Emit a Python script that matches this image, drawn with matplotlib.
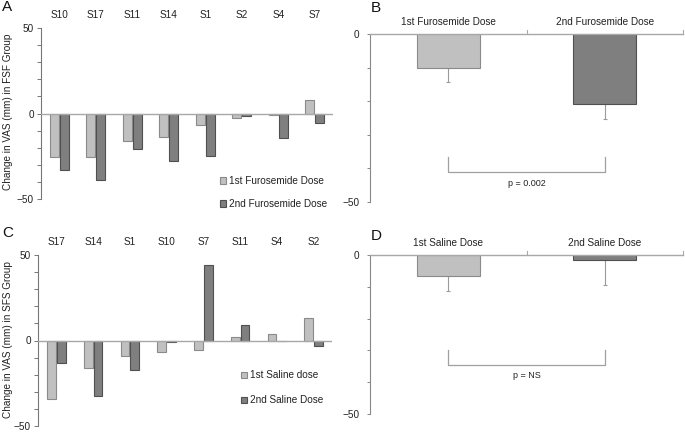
import numpy as np
import matplotlib.pyplot as plt
from matplotlib.patches import Patch
from matplotlib.ticker import MultipleLocator

plt.rcParams["font.family"] = ["Liberation Sans", "DejaVu Sans"]

light = "#c0c0c0"
dark = "#7f7f7f"
light_edge = "#8a8a8a"
dark_edge = "#505050"
axis_col = "#a8a8a8"
txt_col = "#222222"

#################### data #########################
fsf_subjects = ["S10", "S17", "S11", "S14", "S1", "S2", "S4", "S7"]
fsf_first = [-25.4, -25.4, -16.1, -13.6, -6.8, -2.9, -0.6, 8.1]
fsf_second = [-33.1, -38.6, -20.7, -27.7, -24.6, -1.6, -14.1, -5.6]

sfs_subjects = ["S17", "S14", "S1", "S10", "S7", "S11", "S4", "S2"]
sfs_first = [-34.0, -16.0, -9.1, -6.8, -5.6, 2.3, 3.7, 13.0]
sfs_second = [-13.0, -32.7, -17.3, -0.6, 44.0, 8.9, -0.3, -3.3]

fur_labels = ["1st Furosemide Dose", "2nd Furosemide Dose"]
fur_means = [-10.2, -20.8]
fur_err = [4.1, 4.4]
fur_bracket = (-36.6, -41.1)
fur_p = "p = 0.002"

sal_labels = ["1st Saline Dose", "2nd Saline Dose"]
sal_means = [-6.5, -1.7]
sal_err = [4.9, 7.8]
sal_bracket = (-30.0, -34.5)
sal_p = "p = NS"
###################################################

W, H = 685, 432
fig = plt.figure(figsize=(W / 100, H / 100), dpi=100)


def px_axes(left, top, right, bottom):
    return fig.add_axes([left / W, (H - bottom) / H, (right - left) / W, (bottom - top) / H])


def subject_panel(ax, subjects, first, second, leg_labels, leg_pos, leg_space, ylab, ylab_y):
    x = np.arange(len(subjects))
    bw = 0.24
    ax.bar(x - 0.135, first, bw, color=light, edgecolor=light_edge, linewidth=0.8, zorder=2)
    ax.bar(x + 0.135, second, bw, color=dark, edgecolor=dark_edge, linewidth=0.8, zorder=2)
    ax.set_xlim(-0.5, len(subjects) - 0.5)
    ax.set_ylim(-50, 50)
    ax.axhline(0, color=axis_col, lw=1.0, zorder=3)
    for s in ["top", "right", "bottom"]:
        ax.spines[s].set_visible(False)
    ax.spines["left"].set_color("#777777")
    ax.spines["left"].set_linewidth(0.8)
    ax.xaxis.tick_top()
    ax.set_xticks(x, subjects)
    ax.tick_params(axis="x", length=0, pad=6, labelsize=7.2, colors=txt_col)
    ax.yaxis.set_major_locator(MultipleLocator(50))
    ax.yaxis.set_minor_locator(MultipleLocator(10))
    ax.tick_params(axis="y", which="both", length=3, width=0.7, color="#777777",
                   labelsize=7.2, labelcolor=txt_col, pad=2)
    handles = [Patch(facecolor=light, edgecolor=light_edge, linewidth=0.8),
               Patch(facecolor=dark, edgecolor=dark_edge, linewidth=0.8)]
    ax.legend(handles, leg_labels, loc="upper left", bbox_to_anchor=leg_pos, frameon=False,
              fontsize=7.2, handlelength=0.6, handleheight=0.6, handletextpad=0.3,
              labelspacing=leg_space, borderpad=0, borderaxespad=0, labelcolor=txt_col)
    fig.text(8 / W, 1 - ylab_y / H, ylab, rotation=90, ha="center", va="center",
             fontsize=7.2, color=txt_col)


def mean_panel(ax, labels, means, err, bracket, ptext):
    x = np.arange(len(labels))
    ax.bar(x, means, 0.4, color=[light, dark], edgecolor=[light_edge, dark_edge],
           linewidth=0.8, zorder=2)
    ax.errorbar(x, means, yerr=[err, [0] * len(err)], fmt="none", ecolor="#9a9a9a",
                elinewidth=0.8, capsize=1.5, capthick=0.8, zorder=1)
    ax.set_xlim(-0.5, len(labels) - 0.5)
    ax.set_ylim(-50, 0)
    for s in ["top", "right", "bottom"]:
        ax.spines[s].set_visible(False)
    ax.spines["left"].set_color("#888888")
    ax.spines["left"].set_linewidth(0.8)
    ax.axhline(0, color=axis_col, lw=1.0, clip_on=False, zorder=3)
    for bx in [0.5, 1.5]:
        ax.plot([bx, bx], [0, 1.2], color=axis_col, lw=0.8, clip_on=False)
    ax.xaxis.tick_top()
    ax.set_xticks(x, labels)
    ax.tick_params(axis="x", length=0, pad=5, labelsize=7.2, colors=txt_col)
    ax.yaxis.set_major_locator(MultipleLocator(50))
    ax.yaxis.set_minor_locator(MultipleLocator(10))
    ax.tick_params(axis="y", which="both", length=2.5, width=0.7, color="#888888",
                   labelsize=7.2, labelcolor=txt_col, pad=5)
    top, bot = bracket
    ax.plot([0, 0, 1, 1], [top, bot, bot, top], color="#a0a0a0", lw=0.9)
    ax.text(0.5, bot - 3.3, ptext, ha="center", va="center", fontsize=6.5, color=txt_col)


axA = px_axes(41, 28, 333, 199)
subject_panel(axA, fsf_subjects, fsf_first, fsf_second,
              ["1st Furosemide Dose", "2nd Furosemide Dose"], (0.613, 0.135), 1.3,
              "Change in VAS (mm) in FSF Group", 112)

axC = px_axes(38, 255, 332, 426)
subject_panel(axC, sfs_subjects, sfs_first, sfs_second,
              ["1st Saline dose", "2nd Saline Dose"], (0.69, 0.325), 1.5,
              "Change in VAS (mm) in SFS Group", 340)

axB = px_axes(370, 34, 683, 202)
mean_panel(axB, fur_labels, fur_means, fur_err, fur_bracket, fur_p)

axD = px_axes(370, 255, 683, 414)
mean_panel(axD, sal_labels, sal_means, sal_err, sal_bracket, sal_p)

for letter, lx, ly in [("A", 2, 0), ("B", 371, 1), ("C", 2, 226), ("D", 371, 229)]:
    fig.text(lx / W, 1 - ly / H, letter, ha="left", va="top", fontsize=11, color="#111111")

plt.savefig("out.png", dpi=100)
